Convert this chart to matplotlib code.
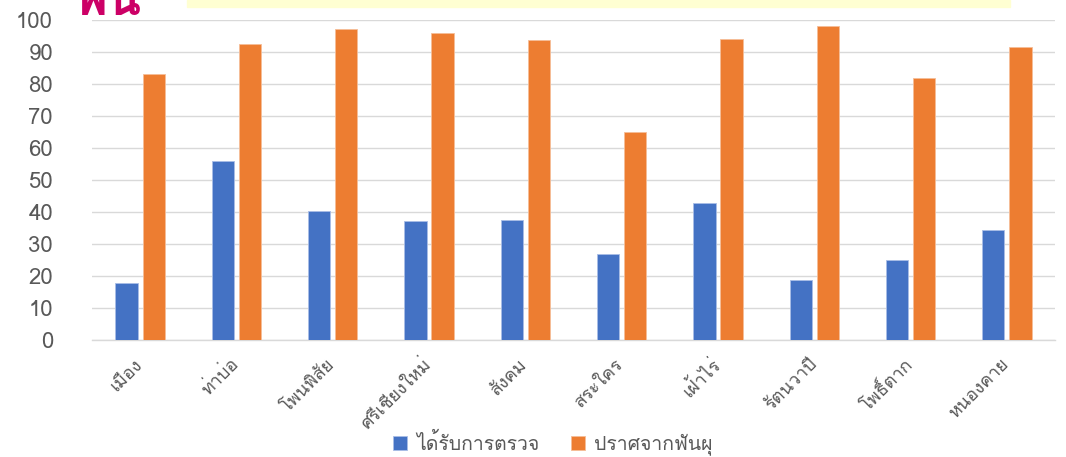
import matplotlib
matplotlib.use("Agg")
import matplotlib.pyplot as plt
from matplotlib import font_manager
from matplotlib.ft2font import FT2Font
from matplotlib.patches import Rectangle
from matplotlib.transforms import ScaledTranslation

categories = ["เมือง", "ท่าบ่อ", "โพนพิสัย", "ศรีเชียงใหม่", "สังคม",
              "สระใคร", "เฝ้าไร่", "รัตนวาปี", "โพธิ์ตาก", "หนองคาย"]
examined = [17.6, 55.9, 40.1, 37.0, 37.3, 26.8, 42.7, 18.6, 25.0, 34.2]
caries_free = [83.1, 92.4, 97.1, 95.8, 93.6, 64.9, 94.0, 98.0, 81.9, 91.6]
series_names = ["ได้รับการตรวจ", "ปราศจากฟันผุ"]
yticks = list(range(0, 101, 10))

# find a font with Thai glyphs
thai_family = None
for f in font_manager.fontManager.ttflist:
    try:
        ft = FT2Font(f.fname)
        cmap = ft.get_charmap()
        if 0x0E01 in cmap and 0x0E2D in cmap:
            thai_family = f.name
            break
    except Exception:
        continue
fams = ([thai_family] if thai_family else []) + ["DejaVu Sans"]
plt.rcParams["font.family"] = fams

W, H = 1066, 457
fig = plt.figure(figsize=(W / 100, H / 100), dpi=100)
ax = fig.add_axes([92 / W, 1 - 339.5 / H, (1055 - 92) / W, (339.5 - 20) / H])

x = list(range(len(categories)))
bw = 0.232
off = 0.141
blue = "#4472C4"
orange = "#ED7D31"
ax.bar([i - off for i in x], examined, width=bw, color=blue,
       edgecolor="#A9BDE6", linewidth=0.6, zorder=3, label=series_names[0])
ax.bar([i + off for i in x], caries_free, width=bw, color=orange,
       edgecolor="#F6BE98", linewidth=0.6, zorder=3, label=series_names[1])

ax.set_xlim(-0.5, len(categories) - 0.5)
ax.set_ylim(0, 100)
ax.set_yticks(yticks)
ax.yaxis.grid(True, color="#D9D9D9", linewidth=1.0, zorder=0)
for s in ["top", "right", "left"]:
    ax.spines[s].set_visible(False)
ax.spines["bottom"].set_color("#D9D9D9")
ax.spines["bottom"].set_linewidth(1.0)
ax.tick_params(axis="y", length=0, pad=28, labelsize=16, labelcolor="#595959")
ax.tick_params(axis="x", length=0, pad=14, labelsize=13, labelcolor="#595959")
ax.set_xticks(x)
ax.set_xticklabels(categories, rotation=45, ha="right", rotation_mode="anchor")
shift = ScaledTranslation(-7 / 100, 4 / 100, fig.dpi_scale_trans)
for lbl in ax.get_xticklabels():
    lbl.set_transform(lbl.get_transform() + shift)

leg = fig.legend(loc="center", bbox_to_anchor=(553 / W, 1 - 444 / H), ncol=2,
                 frameon=False, fontsize=14, handlelength=0.7, handleheight=0.7,
                 columnspacing=1.6, handletextpad=0.5)
for t in leg.get_texts():
    t.set_color("#595959")

# cropped header remnants
fig.patches.append(Rectangle((187 / W, 1 - 7 / H), (1010 - 187) / W, 7 / H,
                             transform=fig.transFigure, color="#FFFFD2", zorder=0))
fig.text(74 / W, 1 - 15 / H, "พน", color="#CC0066", fontsize=36,
         fontweight="bold", ha="left", va="baseline")

fig.savefig("out.png", dpi=100)
